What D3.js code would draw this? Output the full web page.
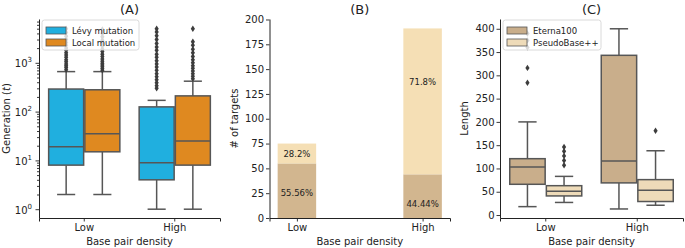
<!DOCTYPE html>
<html lang="en">
<head>
<meta charset="utf-8">
<title>Base pair density</title>
<script src="https://cdn.jsdelivr.net/npm/d3@7"></script>
<style>
body{margin:0;background:#fff;}
svg text{font-family:"DejaVu Sans",sans-serif;fill:#222;}
</style>
</head>
<body>
<script>
var densities = ["Low", "High"];

// (A) generation needed, box stats are [low whisker, q1, median, q3, high whisker]
var mutations = ["Lévy mutation", "Local mutation"];
var mutColors = ["#20afdf", "#df8920"];
var genStats = [
  [[2, 8, 19, 290, 660], [2, 15, 35, 280, 660]],
  [[1, 4, 9, 125, 170], [1, 8, 25, 210, 420]]
];
var genOutliers = [
  [[720, 800, 870, 950, 1050, 1150, 1300, 1450, 1600, 1800, 2000, 2300, 2600, 3000, 3500, 4200, 5000],
   [700, 760, 830, 900, 980, 1080, 1200, 1350, 1500, 1700, 1900, 2200, 2500, 2900, 3400, 4000, 4800]],
  [[300, 340, 390, 450, 520, 600, 700, 820, 950, 1100, 1300, 1500, 1800, 2100, 2500, 3000, 3600, 4300, 5000],
   [470, 530, 600, 680, 770, 870, 1000, 1150, 1350, 1600, 1900, 2300, 2700, 5000]]
];

// (B) number of targets
var eternaCounts = [55, 44];
var pseudoCounts = [20, 147];
var eternaPct = ["55.56%", "44.44%"];
var pseudoPct = ["28.2%", "71.8%"];
var eternaLabelAt = [25, 14];
var pseudoLabelAt = [64.5, 137];

// (C) sequence length
var datasets = ["Eterna100", "PseudoBase++"];
var setColors = ["#c9ae8b", "#eedbb9"];
var lenStats = [
  [[18, 66, 103, 121, 200], [27, 41, 51, 63, 83]],
  [[13, 69, 116, 343, 400], [21, 29, 53, 76, 138]]
];
var lenOutliers = [
  [[284, 316, 360, 375, 390], [107, 117, 127, 137, 146]],
  [[], [181]]
];

var W = 685, H = 248;
var yBottom = 218, yTop = 19;
var lineCol = "#565656";

var svg = d3.select("body").append("svg")
    .attr("width", W)
    .attr("height", H);

function styleAxis(g) {
  g.select(".domain").attr("stroke", "#222").attr("stroke-width", 1);
  g.selectAll(".tick line").attr("stroke", "#222").attr("stroke-width", 0.9);
  g.selectAll(".tick text").attr("font-size", "10px").attr("fill", "#222");
}

function frame(x, xl, xr, title) {
  var g = svg.append("g");
  var ax = g.append("g")
      .attr("transform", "translate(0," + yBottom + ")")
      .call(d3.axisBottom(x).tickSizeOuter(0).tickSize(3.5).tickPadding(2));
  styleAxis(ax);
  g.append("text")
      .attr("x", (xl + xr) / 2).attr("y", 14)
      .attr("text-anchor", "middle").attr("font-size", "13px")
      .text(title);
  g.append("text")
      .attr("x", (xl + xr) / 2).attr("y", 245)
      .attr("text-anchor", "middle").attr("font-size", "10px")
      .text("Base pair density");
  return g;
}

function ylab(x, t) {
  return svg.append("text")
      .attr("transform", "translate(" + x + "," + ((yTop + yBottom) / 2) + ") rotate(-90)")
      .attr("text-anchor", "middle").attr("font-size", "10px")
      .text(t);
}

var diamond = "M0,-3.2L2.1,0L0,3.2L-2.1,0Z";

function drawBoxes(g, x, y, stats, outliers, colors) {
  densities.forEach(function(cat, i) {
    stats[i].forEach(function(s, j) {
      var bw = x.bandwidth() * 0.4;
      var cx = x(cat) + x.bandwidth() * 0.1 + bw * j + bw / 2;
      var half = bw / 2 - 0.6, cap = bw / 4;
      g.append("line").attr("x1", cx).attr("x2", cx)
          .attr("y1", y(s[0])).attr("y2", y(s[1]))
          .attr("stroke", lineCol).attr("stroke-width", 1.5);
      g.append("line").attr("x1", cx).attr("x2", cx)
          .attr("y1", y(s[3])).attr("y2", y(s[4]))
          .attr("stroke", lineCol).attr("stroke-width", 1.5);
      [s[0], s[4]].forEach(function(v) {
        g.append("line").attr("x1", cx - cap).attr("x2", cx + cap)
            .attr("y1", y(v)).attr("y2", y(v))
            .attr("stroke", lineCol).attr("stroke-width", 1.5);
      });
      g.append("rect")
          .attr("x", cx - half).attr("width", half * 2)
          .attr("y", y(s[3])).attr("height", y(s[1]) - y(s[3]))
          .attr("fill", colors[j]).attr("stroke", lineCol).attr("stroke-width", 1.5);
      g.append("line").attr("x1", cx - half).attr("x2", cx + half)
          .attr("y1", y(s[2])).attr("y2", y(s[2]))
          .attr("stroke", lineCol).attr("stroke-width", 1.5);
      g.selectAll(null).data(outliers[i][j]).enter().append("path")
          .attr("d", diamond)
          .attr("transform", function(v) { return "translate(" + cx + "," + y(v) + ")"; })
          .attr("fill", "#3d3d3d");
    });
  });
}

function legend(x0, y0, w, names, colors) {
  var g = svg.append("g");
  g.append("rect").attr("x", x0).attr("y", y0).attr("width", w).attr("height", 30)
      .attr("rx", 2.5).attr("fill", "#fff").attr("fill-opacity", 0.8)
      .attr("stroke", "#d0d0d0").attr("stroke-width", 0.8);
  names.forEach(function(n, i) {
    var cy = y0 + 10.5 + i * 12;
    g.append("rect").attr("x", x0 + 4).attr("y", cy - 3.5).attr("width", 20).attr("height", 7)
        .attr("fill", colors[i]).attr("stroke", lineCol).attr("stroke-width", 0.8);
    g.append("text").attr("x", x0 + 30).attr("y", cy + 3)
        .attr("font-size", "8.5px").text(n);
  });
}

// ---------- (A)
var xA = d3.scaleBand().domain(densities).range([39, 220]);
var yA = d3.scaleLog().domain([0.66, 7900]).range([yBottom, yTop]);
var gA = frame(xA, 39, 220, "(A)");
var minorA = [];
[1, 10, 100, 1000].forEach(function(p) {
  for (var k = 2; k <= 9; k++) if (p * k < 7900) minorA.push(p * k);
});
var ayMinor = gA.append("g").attr("transform", "translate(39,0)")
    .call(d3.axisLeft(yA).tickValues(minorA).tickSize(2).tickFormat(""));
styleAxis(ayMinor);
ayMinor.select(".domain").remove();
var ayA = gA.append("g").attr("transform", "translate(39,0)")
    .call(d3.axisLeft(yA).tickValues([1, 10, 100, 1000]).tickSize(3.5).tickSizeOuter(0).tickFormat(""));
styleAxis(ayA);
ayA.selectAll(".tick").append("text")
    .attr("x", -7).attr("y", 4).attr("text-anchor", "end").attr("font-size", "10px")
    .each(function(d) {
      var t = d3.select(this);
      t.append("tspan").text("10");
      t.append("tspan").attr("dy", -5).attr("font-size", "7px").text(Math.round(Math.log10(d)));
    });
drawBoxes(gA, xA, yA, genStats, genOutliers, mutColors);
var labA = svg.append("text")
    .attr("transform", "translate(9.5," + ((yTop + yBottom) / 2) + ") rotate(-90)")
    .attr("text-anchor", "middle").attr("font-size", "10px");
labA.append("tspan").text("Generation (");
labA.append("tspan").attr("font-style", "italic").text("t");
labA.append("tspan").text(")");
legend(42, 20, 97, mutations, mutColors);

// ---------- (B)
var xB = d3.scalePoint().domain(densities).range([269.5, 450]).padding(0.218);
var yB = d3.scaleLinear().domain([0, 200.5]).range([yBottom, yTop]);
var gB = frame(xB, 269.5, 450, "(B)");
var barW = 38.5;
gB.selectAll("rect.eterna").data(densities).enter().append("rect")
    .attr("x", function(d) { return xB(d) - barW / 2; })
    .attr("width", barW)
    .attr("y", function(d, i) { return yB(eternaCounts[i]); })
    .attr("height", function(d, i) { return yB(0) - yB(eternaCounts[i]); })
    .attr("fill", "#d2b68f");
gB.selectAll("rect.pseudo").data(densities).enter().append("rect")
    .attr("x", function(d) { return xB(d) - barW / 2; })
    .attr("width", barW)
    .attr("y", function(d, i) { return yB(eternaCounts[i] + pseudoCounts[i]); })
    .attr("height", function(d, i) { return yB(eternaCounts[i]) - yB(eternaCounts[i] + pseudoCounts[i]); })
    .attr("fill", "#f5dfb5");
densities.forEach(function(d, i) {
  [[eternaPct[i], eternaLabelAt[i]], [pseudoPct[i], pseudoLabelAt[i]]].forEach(function(l) {
    gB.append("text").attr("x", xB(d)).attr("y", yB(l[1]) + 3)
        .attr("text-anchor", "middle").attr("font-size", "8.5px").text(l[0]);
  });
});
var ayB = gB.append("g").attr("transform", "translate(269.5,0)")
    .call(d3.axisLeft(yB).tickValues(d3.range(0, 201, 25)).tickSize(3.5).tickSizeOuter(0).tickPadding(2));
styleAxis(ayB);
ylab(237.5, "# of targets");

// ---------- (C)
var xC = d3.scaleBand().domain(densities).range([500, 683]);
var yC = d3.scaleLinear().domain([-6.4, 421]).range([yBottom, yTop]);
var gC = frame(xC, 500, 683, "(C)");
var ayC = gC.append("g").attr("transform", "translate(500,0)")
    .call(d3.axisLeft(yC).tickValues(d3.range(0, 401, 50)).tickSize(3.5).tickSizeOuter(0).tickPadding(2));
styleAxis(ayC);
drawBoxes(gC, xC, yC, lenStats, lenOutliers, setColors);
ylab(468, "Length");
legend(503, 20, 98, datasets, setColors);
</script>
</body>
</html>
